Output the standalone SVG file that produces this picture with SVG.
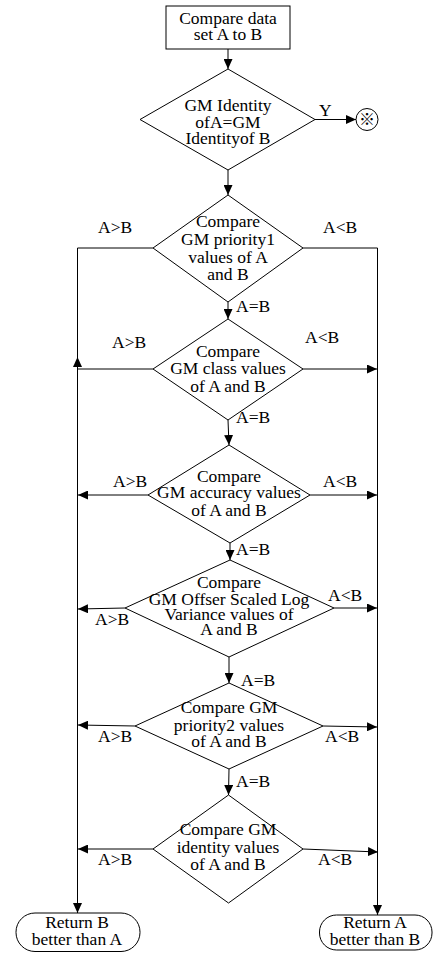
<svg xmlns="http://www.w3.org/2000/svg" width="433" height="954" viewBox="0 0 433 954">
<style>
.s{fill:#fff;stroke:#000;stroke-width:1}
.t{font-family:"Liberation Serif","Times New Roman",serif;font-size:17.5px;fill:#000;text-anchor:middle}
.l{font-family:"Liberation Serif","Times New Roman",serif;font-size:17.5px;fill:#000}
.c{fill:none;stroke:#000;stroke-width:1}
</style>
<defs>
<marker id="ah" markerUnits="userSpaceOnUse" markerWidth="10" markerHeight="9" refX="10" refY="4.5" orient="auto">
<path d="M0,0 L10,4.5 L0,9 z" fill="#000"/>
</marker>
</defs>
<rect width="433" height="954" fill="#fff"/>
<g id="connectors">
<path class="c" d="M228,49 V69" marker-end="url(#ah)"/>
<path class="c" d="M315,119.5 H356" marker-end="url(#ah)"/>
<path class="c" d="M228,170 V195" marker-end="url(#ah)"/>
<path class="c" d="M153,248 H77.5 V913" marker-end="url(#ah)"/>
<path class="c" d="M303,248 H377.5 V915" marker-end="url(#ah)"/>
<path class="c" d="M228,302 V319" marker-end="url(#ah)"/>
<path class="c" d="M153,369 H77.5"/>
<path class="c" d="M77.5,368 V357" marker-end="url(#ah)"/>
<path class="c" d="M303,369 H377" marker-end="url(#ah)"/>
<path class="c" d="M228,420 L229,445" marker-end="url(#ah)"/>
<path class="c" d="M148,495 H78" marker-end="url(#ah)"/>
<path class="c" d="M310,495 H377" marker-end="url(#ah)"/>
<path class="c" d="M230,543 V560" marker-end="url(#ah)"/>
<path class="c" d="M125,608 L78,609" marker-end="url(#ah)"/>
<path class="c" d="M334,608 H377" marker-end="url(#ah)"/>
<path class="c" d="M229,657 V683" marker-end="url(#ah)"/>
<path class="c" d="M135,726 L78,725" marker-end="url(#ah)"/>
<path class="c" d="M323,726 L377,727" marker-end="url(#ah)"/>
<path class="c" d="M229,769 L228.5,795" marker-end="url(#ah)"/>
<path class="c" d="M153,849 H78" marker-end="url(#ah)"/>
<path class="c" d="M303,849 L378,852" marker-end="url(#ah)"/>
<text class="l" x="319" y="116">Y</text>
<text class="l" x="246" y="149">N</text>
<text class="l" x="98" y="233">A&gt;B</text>
<text class="l" x="323" y="233">A&lt;B</text>
<text class="l" x="236" y="312">A=B</text>
<text class="l" x="112" y="348">A&gt;B</text>
<text class="l" x="305" y="343">A&lt;B</text>
<text class="l" x="236" y="423">A=B</text>
<text class="l" x="113" y="487">A&gt;B</text>
<text class="l" x="323" y="487">A&lt;B</text>
<text class="l" x="236" y="555">A=B</text>
<text class="l" x="95" y="625">A&gt;B</text>
<text class="l" x="328" y="601">A&lt;B</text>
<text class="l" x="241" y="686">A=B</text>
<text class="l" x="98" y="742">A&gt;B</text>
<text class="l" x="325" y="742">A&lt;B</text>
<text class="l" x="236" y="787">A=B</text>
<text class="l" x="98" y="865">A&gt;B</text>
<text class="l" x="318" y="865">A&lt;B</text>
</g>
<g id="start">
<rect class="s" x="166" y="6" width="124" height="43"/>
<text class="t" x="228" y="24">Compare data</text>
<text class="t" x="228" y="40">set A to B</text>
</g>
<g id="d1">
<polygon class="s" points="228,69 315,119.5 228,170 140,119.5"/>
<text class="t" x="228" y="111">GM Identity</text>
<text class="t" x="228" y="128">ofA=GM</text>
<text class="t" x="228" y="144">Identityof B</text>
</g>
<g id="ref">
<circle class="s" cx="367" cy="119.5" r="11"/>
<text x="367" y="125" font-family="'Noto Sans CJK SC',sans-serif" font-size="16" text-anchor="middle">※</text>
</g>
<g id="d2">
<polygon class="s" points="228,195 303,248 228,302 153,248"/>
<text class="t" x="228" y="227">Compare</text>
<text class="t" x="228" y="245">GM priority1</text>
<text class="t" x="228" y="263">values of A</text>
<text class="t" x="228" y="280">and B</text>
</g>
<g id="d3">
<polygon class="s" points="228,319 303,369 228,420 153,369"/>
<text class="t" x="228" y="357">Compare</text>
<text class="t" x="228" y="374">GM class values</text>
<text class="t" x="228" y="392">of A and B</text>
</g>
<g id="d4">
<polygon class="s" points="229,445 310,495 230,543 148,495"/>
<text class="t" x="229" y="482">Compare</text>
<text class="t" x="229" y="498">GM accuracy values</text>
<text class="t" x="229" y="516">of  A and B</text>
</g>
<g id="d5">
<polygon class="s" points="230,560 334,608 229,657 125,608"/>
<text class="t" x="229" y="588">Compare</text>
<text class="t" x="229" y="605">GM Offser Scaled Log</text>
<text class="t" x="229" y="620">Variance values of</text>
<text class="t" x="229" y="635">A and B</text>
</g>
<g id="d6">
<polygon class="s" points="229,683 323,726 229,769 135,726"/>
<text class="t" x="229" y="713">Compare GM</text>
<text class="t" x="229" y="731">priority2 values</text>
<text class="t" x="229" y="747">of A and B</text>
</g>
<g id="d7">
<polygon class="s" points="228.5,795 303,849 228.5,903 153,849"/>
<text class="t" x="228" y="835">Compare GM</text>
<text class="t" x="228" y="853">identity values</text>
<text class="t" x="228" y="870">of A and B</text>
</g>
<g id="returnB">
<rect class="s" x="16" y="913" width="124" height="38.5" rx="19" ry="19"/>
<text class="t" x="77" y="928">Return B</text>
<text class="t" x="77" y="945">better than A</text>
</g>
<g id="returnA">
<rect class="s" x="319.5" y="915" width="112.5" height="35" rx="17" ry="17"/>
<text class="t" x="375" y="928">Return A</text>
<text class="t" x="375" y="945">better than B</text>
</g>
</svg>
